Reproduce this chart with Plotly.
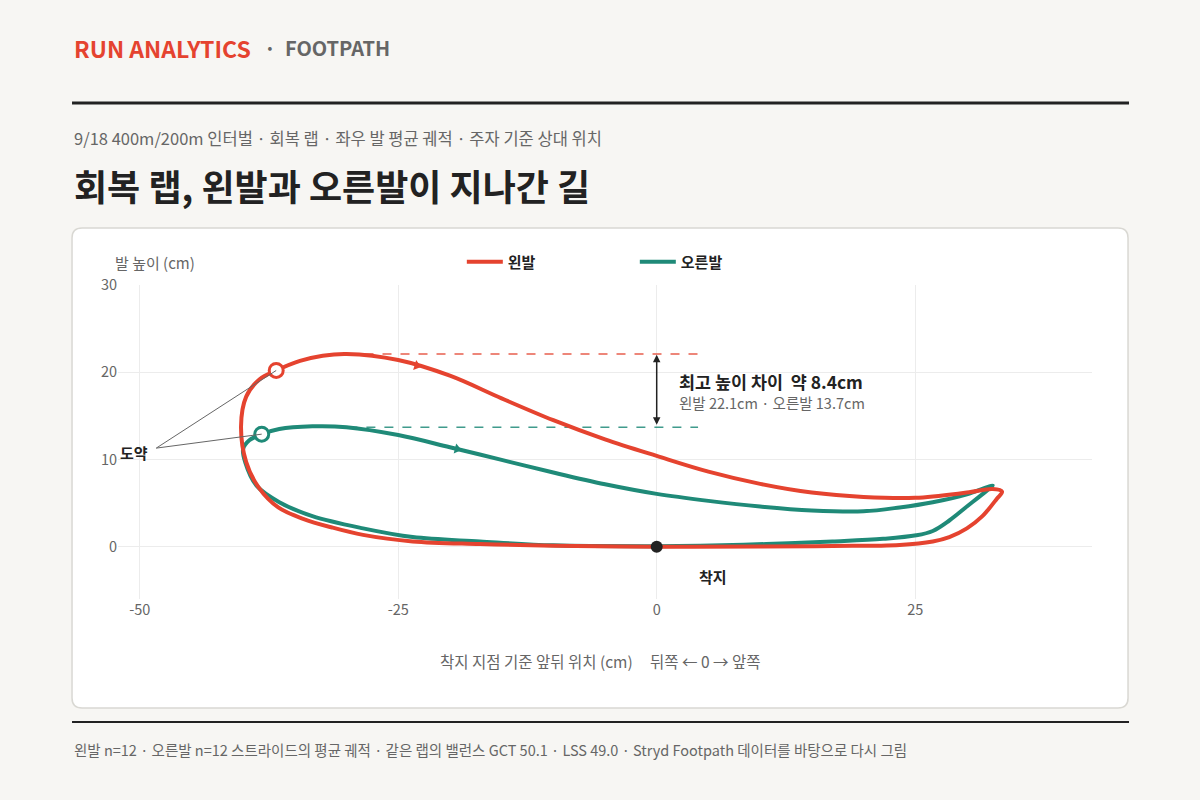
import numpy as np
import plotly.graph_objects as go

# 왼발 평균 궤적 (도약 지점에서 시작해 한 바퀴)
left_x = [-36.8, -34.5, -32.3, -30.0, -25.0, -20.0, -15.0, -10.0, -5.0, 0.0, 5.0, 10.0, 15.0, 20.0,
          25.0, 30.0, 32.5, 33.4, 32.9, 31.5, 30.0, 28.3, 26.7, 23.5, 17.0, 10.0, 0.0, -10.0, -17.1,
          -23.6, -28.4, -31.4, -34.2, -36.6, -38.5, -39.7, -40.2, -39.7, -38.4, -36.8]
left_y = [20.2, 21.3, 21.9, 22.1, 21.4, 19.6, 17.0, 14.5, 12.3, 10.4, 8.6, 7.2, 6.2, 5.7,
          5.6, 6.2, 6.6, 6.3, 5.5, 3.5, 2.1, 1.1, 0.6, 0.2, 0.08, 0.03, 0.0, 0.1, 0.3,
          0.6, 1.35, 2.2, 3.2, 4.5, 6.8, 9.7, 13.8, 17.2, 19.2, 20.2]

# 오른발 평균 궤적
right_x = [-38.2, -36.5, -33.3, -30.0, -25.0, -20.0, -15.0, -10.0, -5.0, 0.0, 5.0, 10.0, 15.0, 20.0,
           23.5, 26.7, 30.0, 32.5, 31.9, 30.0, 28.3, 26.7, 25.1, 21.9, 17.0, 10.6, 4.2, 0.0, -10.0,
           -17.1, -23.6, -28.4, -33.3, -36.5, -38.7, -39.8, -40.0, -39.4, -38.2]
right_y = [12.9, 13.5, 13.8, 13.7, 12.8, 11.4, 9.95, 8.5, 7.15, 6.05, 5.25, 4.6, 4.15, 4.05,
           4.5, 5.1, 6.0, 7.0, 6.4, 4.6, 3.0, 1.8, 1.3, 0.9, 0.6, 0.3, 0.1, 0.05, 0.15,
           0.6, 1.1, 2.1, 3.5, 5.1, 7.0, 9.7, 11.2, 12.2, 12.9]

# 진행 방향 화살표 위치 (x)
left_arrow_x = -23.2
right_arrow_x = -19.3

left_peak = 22.1
right_peak = 13.7
landing = (0, 0)
x_ticks = [-50, -25, 0, 25]
x_tick_text = ["-50", "-25", "0", "25"]
y_ticks = [0, 10, 20, 30]

RED = "#e5432f"
GREEN = "#1f8a78"
FONT = "Noto Sans CJK KR"
X_RANGE = [-52.1, 42.1]
Y_RANGE = [-6, 30]
PX_X = 974 / (X_RANGE[1] - X_RANGE[0])
PX_Y = 314 / (Y_RANGE[1] - Y_RANGE[0])

fig = go.Figure()

# 최고 높이 기준 점선
lpk = left_y.index(max(left_y))
rpk = right_y.index(max(right_y))
fig.add_trace(go.Scatter(x=[left_x[lpk], 4], y=[left_peak, left_peak], mode="lines",
                         line=dict(color=RED, width=1.5, dash="dash"), opacity=0.85,
                         showlegend=False, hoverinfo="skip"))
fig.add_trace(go.Scatter(x=[right_x[rpk], 4], y=[right_peak, right_peak], mode="lines",
                         line=dict(color=GREEN, width=1.5, dash="dash"), opacity=0.85,
                         showlegend=False, hoverinfo="skip"))

fig.add_trace(go.Scatter(x=right_x, y=right_y, mode="lines", name="<b>오른발</b>", legendrank=2,
                         line=dict(color=GREEN, width=4, shape="spline", smoothing=1)))
fig.add_trace(go.Scatter(x=left_x, y=left_y, mode="lines", name="<b>왼발</b>", legendrank=1,
                         line=dict(color=RED, width=4, shape="spline", smoothing=1)))

# 진행 방향 화살표: 윗 구간에서 보간해 위치와 기울기를 구함
for xs, ys, ax, c in [(left_x, left_y, left_arrow_x, RED), (right_x, right_y, right_arrow_x, GREEN)]:
    top = slice(0, xs.index(max(xs)) + 1)
    tx, ty = np.array(xs[top]), np.array(ys[top])
    ay = float(np.interp(ax, tx, ty))
    slope = (np.interp(ax + 1, tx, ty) - np.interp(ax - 1, tx, ty)) / 2
    ang = float(np.degrees(np.arctan(-slope * PX_Y / PX_X)))
    fig.add_trace(go.Scatter(x=[ax], y=[ay], mode="markers", showlegend=False, hoverinfo="skip",
                             marker=dict(symbol="triangle-right", size=9, color=c, angle=ang,
                                         line=dict(width=0))))

# 도약 / 착지 지점
fig.add_trace(go.Scatter(x=[left_x[0]], y=[left_y[0]], mode="markers", showlegend=False,
                         marker=dict(size=14, color="white", line=dict(color=RED, width=3))))
fig.add_trace(go.Scatter(x=[right_x[0]], y=[right_y[0]], mode="markers", showlegend=False,
                         marker=dict(size=14, color="white", line=dict(color=GREEN, width=3))))
fig.add_trace(go.Scatter(x=[landing[0]], y=[landing[1]], mode="markers", showlegend=False,
                         marker=dict(size=12, color="#222")))

# 도약 라벨 연결선
for tx, ty in [(left_x[0], left_y[0]), (right_x[0], right_y[0])]:
    fig.add_shape(type="line", x0=-48.4, y0=11.3, x1=tx, y1=ty,
                  line=dict(color="#666", width=1))

# 카드 배경 (둥근 모서리)
x0, x1, y0, y1 = -0.0472, 1.0370, -0.3471, 1.1815
rx, ry = 0.0103, 0.0318
card = (f"M {x0+rx},{y0} L {x1-rx},{y0} Q {x1},{y0} {x1},{y0+ry} L {x1},{y1-ry} "
        f"Q {x1},{y1} {x1-rx},{y1} L {x0+rx},{y1} Q {x0},{y1} {x0},{y1-ry} "
        f"L {x0},{y0+ry} Q {x0},{y0} {x0+rx},{y0} Z")
fig.add_shape(type="path", path=card, xref="paper", yref="paper", layer="below",
              fillcolor="white", line=dict(color="#d9d8d3", width=1.5))
fig.add_shape(type="line", xref="paper", yref="paper", x0=-0.0472, x1=1.0380, y0=1.580, y1=1.580,
              line=dict(color="#222", width=3))
fig.add_shape(type="line", xref="paper", yref="paper", x0=-0.0472, x1=1.0380, y0=-0.392, y1=-0.392,
              line=dict(color="#222", width=2))

ann = []
def txt(x, y, s, size, color, bold=False, xanchor="left", ref="paper"):
    ann.append(dict(x=x, y=y, xref=ref if ref == "paper" else "x", yref=ref if ref == "paper" else "y",
                    text=f"<b>{s}</b>" if bold else s, showarrow=False, xanchor=xanchor,
                    yanchor="middle", font=dict(family=FONT, size=size, color=color)))

txt(-0.0472, 1.755, "RUN ANALYTICS", 23, RED, bold=True)
txt(0.148, 1.755, "·  FOOTPATH", 20, "#666", bold=True)
txt(-0.0472, 1.468, "9/18 400m/200m 인터벌 · 회복 랩 · 좌우 발 평균 궤적 · 주자 기준 상대 위치", 16.5, "#666")
txt(-0.0472, 1.318, "회복 랩, 왼발과 오른발이 지나간 길", 36, "#222", bold=True)
txt(-0.005, 1.073, "발 높이 (cm)", 15, "#666")
txt(0.495, -0.197, "착지 지점 기준 앞뒤 위치 (cm)     뒤쪽 ← 0 → 앞쪽", 15.5, "#666", xanchor="center")
txt(-0.0472, -0.478, "왼발 n=12 · 오른발 n=12 스트라이드의 평균 궤적 · 같은 랩의 밸런스 GCT 50.1 · LSS 49.0 · "
    "Stryd Footpath 데이터를 바탕으로 다시 그림", 14.5, "#666")
txt(-49.0, 10.8, "도약", 15, "#222", bold=True, xanchor="right", ref="data")
txt(5.4, -3.4, "착지", 15, "#222", bold=True, xanchor="center", ref="data")
txt(2.0, 18.9, f"최고 높이 차이  약 {left_peak - right_peak:.1f}cm", 17.4, "#222", bold=True, ref="data")
txt(2.0, 16.5, f"왼발 {left_peak}cm · 오른발 {right_peak}cm", 14.5, "#666", ref="data")
ann.append(dict(x=0, y=left_peak - 0.1, ax=0, ay=right_peak + 0.1, xref="x", yref="y", axref="x", ayref="y",
                text="", showarrow=True, arrowhead=2, arrowside="end+start", arrowsize=1,
                arrowwidth=1.5, arrowcolor="#222"))

fig.update_layout(
    width=1200, height=800,
    paper_bgcolor="#f7f6f3", plot_bgcolor="rgba(0,0,0,0)",
    margin=dict(l=118, r=108, t=285, b=201),
    font=dict(family=FONT, color="#666"),
    annotations=ann,
    legend=dict(orientation="h", x=0.353, y=1.073, xanchor="left", yanchor="middle",
                font=dict(family=FONT, size=15, color="#222"), entrywidth=122, itemwidth=36,
                bgcolor="rgba(0,0,0,0)"),
    xaxis=dict(range=X_RANGE, tickvals=x_ticks, ticktext=x_tick_text, showgrid=True,
               gridcolor="#ececec", zeroline=False, showline=False,
               tickfont=dict(size=14.5, color="#666")),
    yaxis=dict(range=Y_RANGE, tickvals=y_ticks, showgrid=True, gridcolor="#ececec",
               zeroline=False, showline=False, tickfont=dict(size=14.5, color="#666")),
)

fig.write_html("out.html", config={"displayModeBar": False},
               post_script="document.body.style.margin='0';")
